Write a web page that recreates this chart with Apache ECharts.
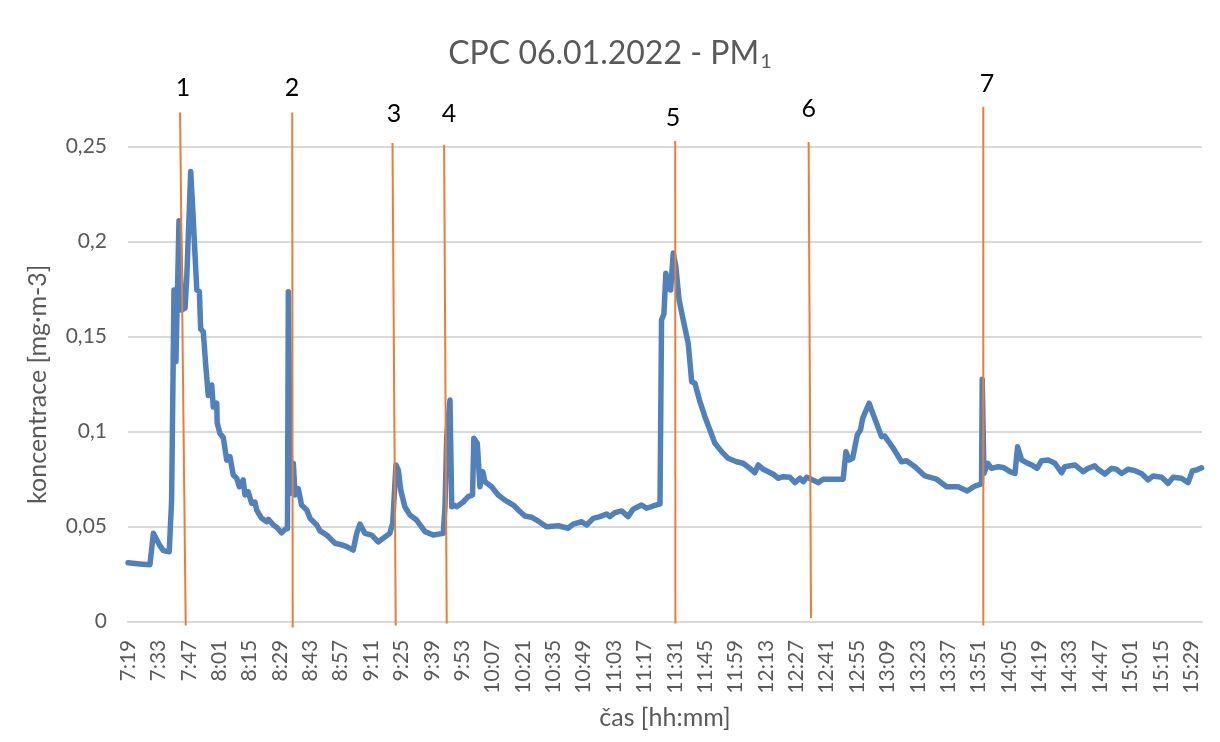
<!DOCTYPE html>
<html>
<head>
<meta charset="utf-8">
<title>CPC 06.01.2022 - PM1</title>
<script src="https://cdn.jsdelivr.net/npm/echarts@6/dist/echarts.min.js"></script>
<style>
html, body { margin: 0; padding: 0; background: #fff; }
#main { width: 1220px; height: 742px; }
</style>
</head>
<body>
<div id="main"></div>
<script>
// start of the record: 7:19, times below are minutes after that
var START = 7 * 60 + 19;

var tMin = [
  0, 5.5, 10.1, 11.7, 14.7, 16.3, 19.0, 20.1, 21.2, 22.1,
  23.5, 24.7, 26.3, 27.1, 28.9, 29.8, 31.7, 32.9, 33.5, 34.7,
  35.9, 37.0, 38.6, 39.3, 40.9, 41.1, 42.4, 43.9, 45.5, 47.0,
  48.5, 50.1, 51.3, 53.1, 53.9, 55.4, 57.0, 58.5, 59.3, 61.6,
  63.9, 64.7, 67.0, 68.5, 70.8, 72.4, 73.5, 73.9, 75.0, 76.2,
  77.0, 78.5, 80.0, 82.4, 83.9, 87.0, 88.5, 91.6, 95.4, 98.5,
  100.8, 103.8, 105.4, 106.9, 109.2, 112.3, 113.0, 115.3, 117.6, 120.7,
  122.0, 123.5, 124.6, 125.7, 127.6, 129.9, 133.0, 136.9, 140.7, 145.3,
  146.1, 146.9, 148.4, 149.2, 150.2, 151.5, 154.5, 156.8, 158.8, 159.4,
  161.0, 162.2, 163.5, 164.5, 167.6, 170.6, 173.7, 177.6, 179.9, 182.9,
  186.0, 188.3, 192.9, 198.3, 202.9, 205.2, 209.1, 211.4, 214.4, 217.5,
  220.6, 222.1, 224.4, 227.5, 230.5, 232.8, 236.7, 239.0, 242.1, 245.2,
  245.9, 247.0, 247.9, 249.0, 250.1, 251.3, 252.5, 254.0, 255.9, 258.2,
  259.8, 261.3, 263.6, 265.9, 268.2, 270.5, 273.6, 276.6, 280.5, 283.5,
  286.6, 288.9, 290.5, 292.8, 297.4, 299.7, 302.0, 305.1, 307.4, 309.7,
  311.2, 312.8, 318.1, 320.4, 329.6, 330.9, 332.4, 334.0, 336.1, 337.6,
  338.6, 341.6, 342.7, 347.3, 348.8, 352.7, 356.5, 358.8, 362.7, 367.3,
  372.7, 377.3, 382.6, 386.8, 390.3, 393.4, 393.7, 394.5, 396.2, 398.0,
  401.1, 403.4, 406.5, 408.8, 410.0, 411.9, 414.2, 416.5, 419.0, 421.0,
  424.1, 427.2, 430.3, 431.8, 436.4, 440.2, 442.5, 445.6, 447.1, 450.2,
  453.3, 455.6, 457.9, 460.9, 464.1, 467.1, 470.2, 472.5, 476.4, 479.4,
  481.7, 485.5, 488.6, 490.6, 492.5, 494.8
];

var conc = [
  0.031, 0.0304, 0.030, 0.0465, 0.040, 0.0374, 0.0368, 0.064, 0.1746, 0.137,
  0.211, 0.164, 0.165, 0.1816, 0.237, 0.218, 0.1746, 0.1737, 0.154, 0.1526,
  0.134, 0.119, 0.1246, 0.113, 0.115, 0.1046, 0.099, 0.097, 0.085, 0.0868,
  0.0772, 0.0755, 0.071, 0.0746, 0.0667, 0.0684, 0.0623, 0.063, 0.0588, 0.0544,
  0.0526, 0.0539, 0.0509, 0.0497, 0.0468, 0.0486, 0.049, 0.1737, 0.0676, 0.0834,
  0.0667, 0.070, 0.0614, 0.0588, 0.0544, 0.0509, 0.0478, 0.0456, 0.0413, 0.0404,
  0.0395, 0.0377, 0.0465, 0.0514, 0.0465, 0.0456, 0.0465, 0.042, 0.0439, 0.0465,
  0.0518, 0.0825, 0.0798, 0.0693, 0.0605, 0.0562, 0.0535, 0.0474, 0.0456, 0.0465,
  0.0605, 0.0974, 0.1167, 0.0605, 0.0614, 0.0605, 0.063, 0.0658, 0.0667, 0.0965,
  0.0939, 0.071, 0.079, 0.0737, 0.071, 0.0667, 0.064, 0.0614, 0.0588, 0.0556,
  0.055, 0.0535, 0.050, 0.0505, 0.0492, 0.0514, 0.0526, 0.0509, 0.0544, 0.0553,
  0.0567, 0.0553, 0.0574, 0.0583, 0.0553, 0.0592, 0.0614, 0.0597, 0.0609, 0.062,
  0.1588, 0.162, 0.1834, 0.1755, 0.1746, 0.194, 0.187, 0.1693, 0.1588, 0.1465,
  0.1263, 0.1255, 0.1158, 0.1079, 0.1009, 0.0939, 0.0895, 0.086, 0.0842, 0.0834,
  0.0807, 0.0784, 0.0825, 0.0802, 0.0776, 0.0755, 0.0763, 0.076, 0.0732, 0.0755,
  0.0737, 0.076, 0.0732, 0.075, 0.075, 0.0895, 0.0851, 0.086, 0.0983, 0.1009,
  0.107, 0.115, 0.1114, 0.0974, 0.0977, 0.0913, 0.0842, 0.0847, 0.0816, 0.0767,
  0.075, 0.071, 0.071, 0.0688, 0.0714, 0.0725, 0.1276, 0.078, 0.0834, 0.0807,
  0.0816, 0.0812, 0.079, 0.078, 0.0921, 0.0851, 0.0837, 0.0825, 0.0807, 0.0847,
  0.0851, 0.0834, 0.0784, 0.0816, 0.0825, 0.079, 0.0807, 0.082, 0.0802, 0.0777,
  0.0807, 0.0802, 0.078, 0.0802, 0.0795, 0.078, 0.0746, 0.0767, 0.076, 0.0728,
  0.076, 0.0755, 0.0732, 0.0795, 0.0798, 0.081
];

// y ticks
var yTicks = [0, 0.05, 0.1, 0.15, 0.2, 0.25];

// hand drawn event markers (orange lines) with their numbers
var markNames = ['1', '2', '3', '4', '5', '6', '7'];
var markTopT = [24.0, 75.7, 121.9, 145.7, 252.2, 313.7, 394.2];
var markTopV = [0.268, 0.268, 0.252, 0.251, 0.253, 0.2525, 0.271];
var markBotT = [26.6, 75.9, 123.4, 146.9, 252.3, 314.8, 394.2];
var markBotV = [-0.002, -0.003, -0.002, -0.001, -0.001, 0.002, -0.002];
var labelT = [25.3, 75.6, 122.6, 147.9, 251.2, 313.8, 395.9];
var labelV = [0.281, 0.281, 0.267, 0.267, 0.265, 0.270, 0.283];

function hhmm(m) {
    var t = START + m;
    var h = Math.floor(t / 60);
    var mm = t % 60;
    return h + ':' + (mm < 10 ? '0' : '') + mm;
}

var seriesData = [];
for (var i = 0; i < tMin.length; i++) {
    seriesData.push([tMin[i], conc[i]]);
}

var FONT = 'Lato, "Open Sans", sans-serif';
var GRAY = '#595959';

var myChart = echarts.init(document.getElementById('main'));

var option = {
    animation: false,
    backgroundColor: '#fff',
    title: {
        text: '{a|CPC 06.01.2022 - PM}{b|1}',
        left: 'center',
        top: 28,
        textStyle: {
            fontWeight: 'normal',
            rich: {
                a: { fontFamily: FONT, fontSize: 32, fontWeight: 'normal', color: GRAY, lineHeight: 42 },
                b: { fontFamily: FONT, fontSize: 20, fontWeight: 'normal', color: GRAY, lineHeight: 42, padding: [16, 0, 0, 1] }
            }
        }
    },
    grid: {
        left: 128,
        right: 18,
        top: 146.7,
        bottom: 120.3
    },
    xAxis: {
        type: 'value',
        min: 0,
        max: 495,
        interval: 14,
        name: 'čas [hh:mm]',
        nameLocation: 'middle',
        nameGap: 84,
        nameTextStyle: { fontFamily: FONT, fontSize: 25, color: GRAY },
        axisLine: { show: true, lineStyle: { color: '#d9d9d9', width: 2 } },
        axisTick: { show: false },
        splitLine: { show: false },
        axisLabel: {
            rotate: 90,
            margin: 18,
            fontFamily: FONT,
            fontSize: 21,
            color: GRAY,
            showMaxLabel: false,
            formatter: function (v) {
                if (v % 14 !== 0) return '';
                return hhmm(v);
            }
        }
    },
    yAxis: {
        type: 'value',
        min: yTicks[0],
        max: yTicks[yTicks.length - 1],
        interval: 0.05,
        name: 'koncentrace [mg·m-3]',
        nameLocation: 'middle',
        nameGap: 78,
        nameTextStyle: { fontFamily: FONT, fontSize: 25, color: GRAY },
        axisLine: { show: false },
        axisTick: { show: false },
        splitLine: { lineStyle: { color: '#d9d9d9', width: 2 } },
        axisLabel: {
            margin: 21,
            fontFamily: FONT,
            fontSize: 21,
            color: GRAY,
            formatter: function (v) {
                return String(+v.toFixed(2)).replace('.', ',');
            }
        }
    },
    series: [{
        name: 'PM1',
        type: 'line',
        data: seriesData,
        showSymbol: false,
        symbol: 'none',
        lineStyle: {
            color: '#4F81BD',
            width: 5.5,
            cap: 'round',
            join: 'round'
        },
        z: 2
    }]
};

myChart.setOption(option);

// orange marker lines and numbers, placed through the chart's own scales
var graphics = [];
for (var k = 0; k < markNames.length; k++) {
    var p1 = myChart.convertToPixel({ gridIndex: 0 }, [markTopT[k], markTopV[k]]);
    var p2 = myChart.convertToPixel({ gridIndex: 0 }, [markBotT[k], markBotV[k]]);
    var pl = myChart.convertToPixel({ gridIndex: 0 }, [labelT[k], labelV[k]]);
    graphics.push({
        type: 'line',
        z: 100,
        shape: { x1: p1[0], y1: p1[1], x2: p2[0], y2: p2[1] },
        style: { stroke: '#ED7D31', lineWidth: 2 }
    });
    graphics.push({
        type: 'text',
        z: 100,
        x: pl[0],
        y: pl[1],
        style: {
            text: markNames[k],
            fontFamily: FONT,
            fontSize: 25,
            fill: '#000',
            align: 'center',
            verticalAlign: 'middle'
        }
    });
}
myChart.setOption({ graphic: graphics });
</script>
</body>
</html>
